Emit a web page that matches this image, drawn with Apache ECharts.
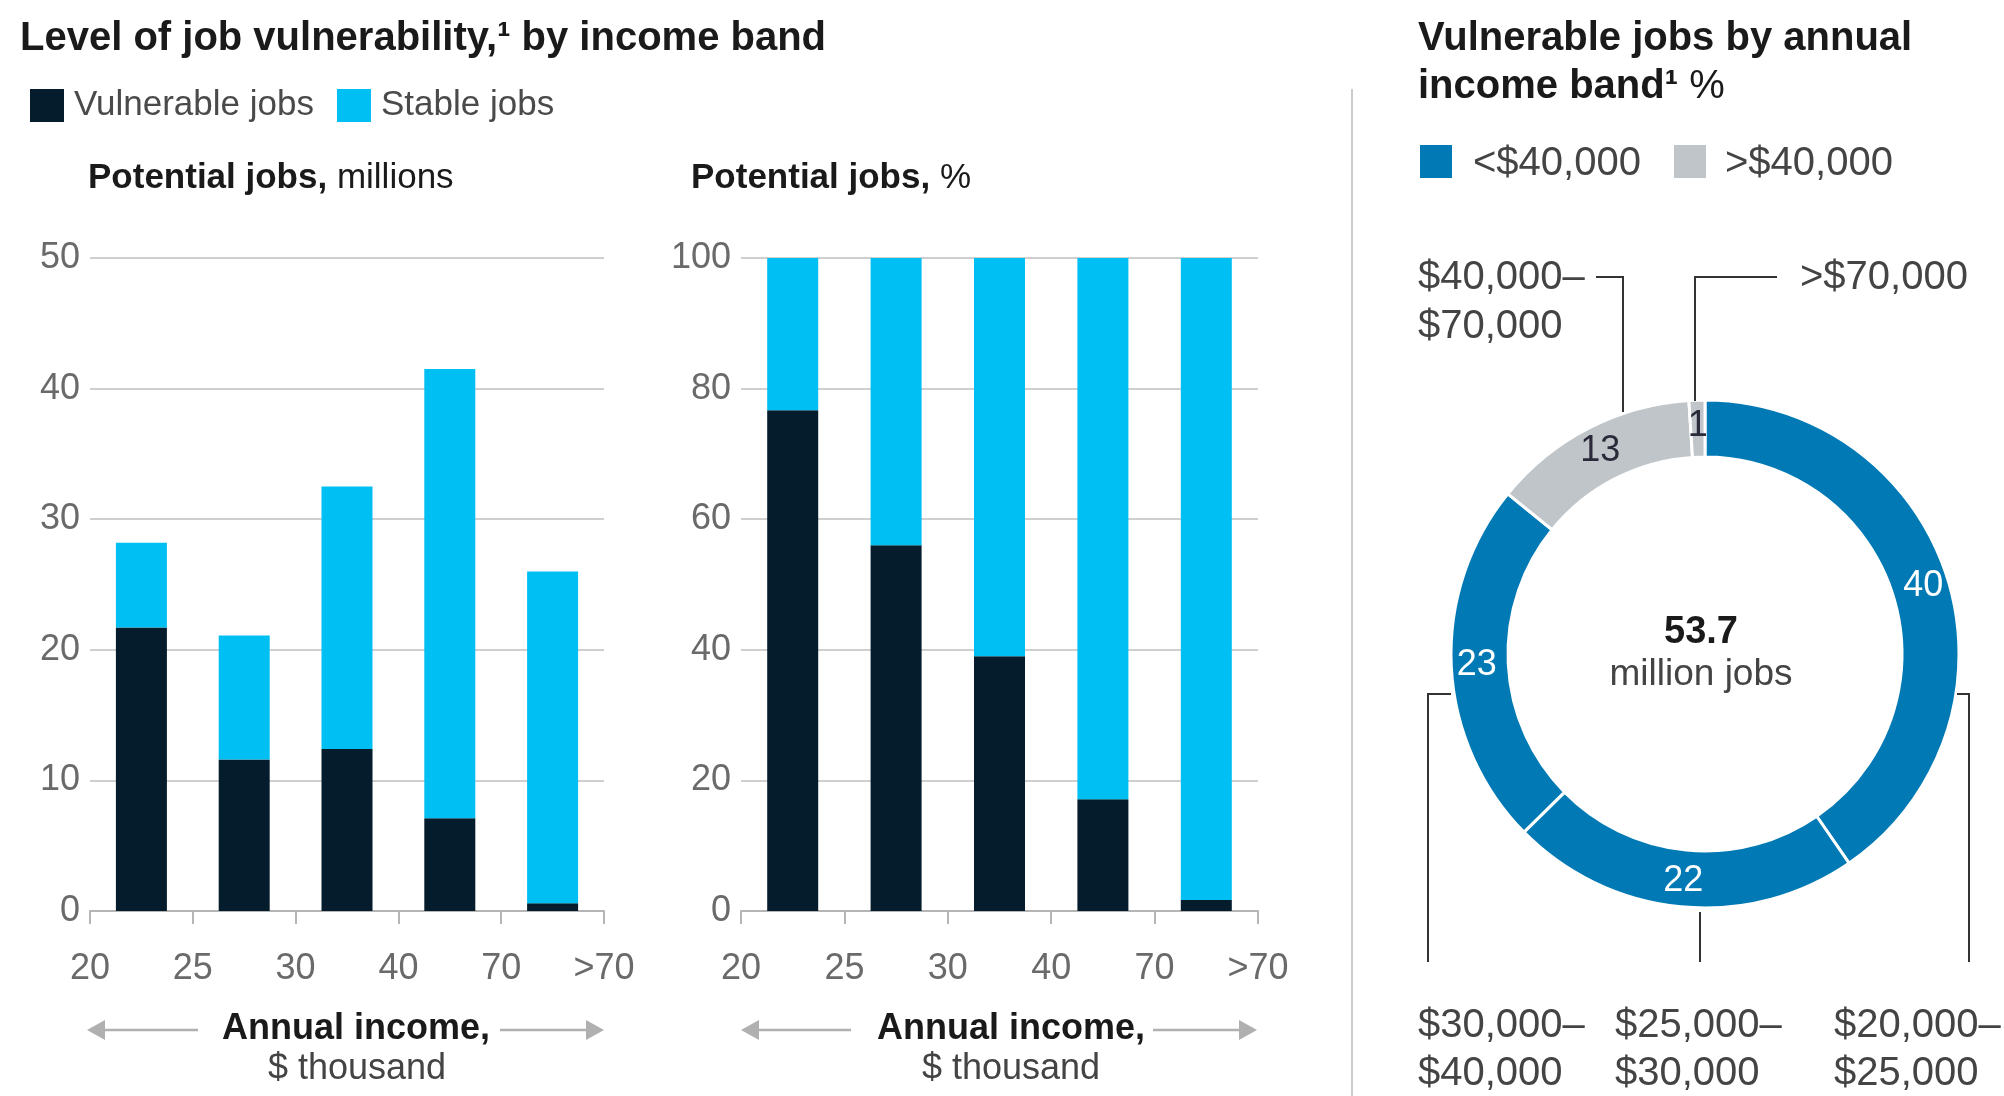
<!DOCTYPE html>
<html>
<head>
<meta charset="utf-8">
<title>Job vulnerability by income band</title>
<script src="https://cdn.jsdelivr.net/npm/echarts@6/dist/echarts.min.js"></script>
<style>
  html, body { margin: 0; padding: 0; background: #fff; }
  #chart { width: 2004px; height: 1096px; }
</style>
</head>
<body>
<div id="chart"></div>
<script>
// income bands (bars sit between the ticks), $ thousand
const incomeBands = ['20-25', '25-30', '30-40', '40-70', '>70'];
const tickLabels = ['20', '25', '30', '40', '70', '>70'];

// potential jobs, millions
const vulnerableJobs = [21.7, 11.6, 12.4, 7.1, 0.6];
const stableJobs = [6.5, 9.5, 20.1, 34.4, 25.4];

// potential jobs, %
const vulnerablePct = [76.7, 56.0, 39.0, 17.1, 1.7];
const stablePct = [23.3, 44.0, 61.0, 82.9, 98.3];

// vulnerable jobs by annual income band, %
const donutBands = ['$20,000–$25,000', '$25,000–$30,000', '$30,000–$40,000', '$40,000–$70,000', '>$70,000'];
const donutShares = [40, 22, 23, 13, 1];
const donutGroup = ['low', 'low', 'low', 'high', 'high'];
const donutTotal = '53.7';

const FONT = '"Liberation Sans", Arial, sans-serif';
const colors = {
  vul: '#051c2c',
  stable: '#00bff3',
  low: '#0079b4',
  high: '#bfc5c8',
  grid: '#cfcfcf',
  axis: '#b5b5b5',
  label: '#6a6a6a',
  text: '#444444',
  title: '#1a1a1a',
  arrow: '#b0b0b0',
  leader: '#333333'
};

let chartDom = document.getElementById('chart');
let myChart = echarts.init(chartDom, null, { renderer: 'canvas' });

function text(x, y, str, size, opts) {
  opts = opts || {};
  return {
    type: 'text', x: x, y: y, silent: true, z: 10,
    style: Object.assign({
      text: str,
      fontFamily: FONT,
      fontSize: size,
      fontWeight: opts.bold ? 'bold' : 'normal',
      fill: opts.color || colors.text,
      align: opts.align || 'left',
      verticalAlign: 'middle'
    }, opts.rich ? { rich: opts.rich } : {})
  };
}

function richStyle(size, color) {
  return {
    b: { fontFamily: FONT, fontSize: size, fontWeight: 'bold', fill: color },
    r: { fontFamily: FONT, fontSize: size, fontWeight: 'normal', fill: color }
  };
}

// double-headed "annual income" arrows under each bar chart
function arrows(left, right, gapL, gapR, y) {
  let head = 18, half = 10;
  let st = { stroke: colors.arrow, lineWidth: 2.5 };
  return [
    { type: 'line', silent: true, shape: { x1: left + head, y1: y, x2: gapL, y2: y }, style: st },
    { type: 'polygon', silent: true, shape: { points: [[left, y], [left + head, y - half], [left + head, y + half]] }, style: { fill: colors.arrow } },
    { type: 'line', silent: true, shape: { x1: gapR, y1: y, x2: right - head, y2: y }, style: st },
    { type: 'polygon', silent: true, shape: { points: [[right, y], [right - head, y - half], [right - head, y + half]] }, style: { fill: colors.arrow } }
  ];
}

function leader(points) {
  return { type: 'polyline', silent: true, z: 10, shape: { points: points }, style: { stroke: colors.leader, lineWidth: 2, fill: null } };
}

function catAxis(gridIndex) {
  return {
    type: 'category', gridIndex: gridIndex, data: incomeBands,
    axisLine: { lineStyle: { color: colors.axis, width: 2 } },
    axisTick: { show: true, length: 13, lineStyle: { color: colors.axis, width: 2 } },
    axisLabel: { show: false },
    splitLine: { show: false }
  };
}

// value axis used only for the boundary tick labels
function tickAxis(gridIndex) {
  return {
    type: 'value', gridIndex: gridIndex, position: 'bottom',
    min: 0, max: 5, interval: 1,
    axisLine: { show: false }, axisTick: { show: false }, splitLine: { show: false },
    axisLabel: {
      show: true, margin: 40, fontSize: 36, fontFamily: FONT, color: colors.label,
      showMinLabel: true, showMaxLabel: true,
      formatter: function (v) { return tickLabels[v]; }
    }
  };
}

function valAxis(gridIndex, max, interval) {
  return {
    type: 'value', gridIndex: gridIndex, min: 0, max: max, interval: interval,
    axisLine: { show: false }, axisTick: { show: false },
    splitLine: { lineStyle: { color: colors.grid, width: 2 } },
    axisLabel: { margin: 10, fontSize: 36, fontFamily: FONT, color: colors.label }
  };
}

let pieData = donutShares.map(function (v, i) {
  let low = donutGroup[i] === 'low';
  return {
    name: donutBands[i],
    value: v,
    itemStyle: { color: low ? colors.low : colors.high },
    label: { color: low ? '#ffffff' : '#2a2a3a' }
  };
});

let option = {
  animation: false,
  backgroundColor: '#ffffff',
  textStyle: { fontFamily: FONT },
  legend: {
    data: ['Vulnerable jobs', 'Stable jobs'],
    left: 25, top: 83,
    icon: 'rect', itemWidth: 34, itemHeight: 33, itemGap: 23,
    selectedMode: false,
    textStyle: { fontSize: 35, fontFamily: FONT, color: '#4a4a4a', padding: [0, 0, 0, 5] }
  },
  grid: [
    { left: 90, top: 258, width: 514, height: 653, outerBoundsMode: 'none' },
    { left: 741, top: 258, width: 517, height: 653, outerBoundsMode: 'none' }
  ],
  xAxis: [catAxis(0), tickAxis(0), catAxis(1), tickAxis(1)],
  yAxis: [valAxis(0, 50, 10), valAxis(1, 100, 20)],
  series: [
    {
      name: 'Vulnerable jobs', type: 'bar', stack: 'abs', xAxisIndex: 0, yAxisIndex: 0,
      barWidth: 51, data: vulnerableJobs, itemStyle: { color: colors.vul }
    },
    {
      name: 'Stable jobs', type: 'bar', stack: 'abs', xAxisIndex: 0, yAxisIndex: 0,
      barWidth: 51, data: stableJobs, itemStyle: { color: colors.stable }
    },
    {
      name: 'Vulnerable jobs', type: 'bar', stack: 'pct', xAxisIndex: 2, yAxisIndex: 1,
      barWidth: 51, data: vulnerablePct, itemStyle: { color: colors.vul }
    },
    {
      name: 'Stable jobs', type: 'bar', stack: 'pct', xAxisIndex: 2, yAxisIndex: 1,
      barWidth: 51, data: stablePct, itemStyle: { color: colors.stable }
    },
    {
      name: 'Vulnerable jobs by annual income band', type: 'pie',
      center: [1705, 654], radius: [197, 254],
      startAngle: 90, clockwise: true,
      avoidLabelOverlap: false,
      itemStyle: { borderColor: '#ffffff', borderWidth: 3 },
      label: { show: true, position: 'inside', formatter: '{c}', fontSize: 36, fontFamily: FONT },
      labelLine: { show: false },
      emphasis: { disabled: true },
      data: pieData
    }
  ],
  graphic: [
    // left panel headings
    text(20, 39, 'Level of job vulnerability,¹ by income band', 40, { bold: true, color: colors.title }),
    text(88, 178, '{b|Potential jobs,}{r| millions}', 35, { rich: richStyle(35, colors.title) }),
    text(691, 178, '{b|Potential jobs,}{r| %}', 35, { rich: richStyle(35, colors.title) }),

    // axis captions
    text(356, 1029, 'Annual income,', 36, { bold: true, align: 'center', color: colors.title }),
    text(357, 1069, '$ thousand', 36, { align: 'center' }),
    text(1011, 1029, 'Annual income,', 36, { bold: true, align: 'center', color: colors.title }),
    text(1011, 1069, '$ thousand', 36, { align: 'center' })
  ]
    .concat(arrows(87, 604, 198, 500, 1030))
    .concat(arrows(741, 1257, 851, 1153, 1030))
    .concat([
      // divider
      { type: 'line', silent: true, shape: { x1: 1352, y1: 89, x2: 1352, y2: 1096 }, style: { stroke: '#cccccc', lineWidth: 2 } },

      // right panel heading and legend
      text(1418, 39, 'Vulnerable jobs by annual', 40, { bold: true, color: colors.title }),
      text(1418, 87, '{b|income band¹}{r| %}', 40, { rich: richStyle(40, colors.title) }),
      { type: 'rect', silent: true, shape: { x: 1420, y: 145, width: 32, height: 33 }, style: { fill: colors.low } },
      text(1473, 164, '<$40,000', 40),
      { type: 'rect', silent: true, shape: { x: 1674, y: 145, width: 32, height: 33 }, style: { fill: colors.high } },
      text(1725, 164, '>$40,000', 40),

      // donut centre
      text(1701, 633, donutTotal, 38, { bold: true, align: 'center', color: colors.title }),
      text(1701, 675, 'million jobs', 37, { align: 'center' }),

      // band callouts
      text(1418, 278, '$40,000–', 40),
      text(1418, 327, '$70,000', 40),
      leader([[1596, 277], [1623, 277], [1623, 412]]),
      text(1800, 278, '>$70,000', 40),
      leader([[1777, 277], [1695, 277], [1695, 401]]),

      leader([[1451, 694], [1428, 694], [1428, 962]]),
      text(1418, 1026, '$30,000–', 40),
      text(1418, 1074, '$40,000', 40),
      leader([[1700, 912], [1700, 962]]),
      text(1615, 1026, '$25,000–', 40),
      text(1615, 1074, '$30,000', 40),
      leader([[1957, 694], [1969, 694], [1969, 962]]),
      text(1834, 1026, '$20,000–', 40),
      text(1834, 1074, '$25,000', 40)
    ])
};

myChart.setOption(option);
window.addEventListener('resize', function () {
  myChart.resize();
});
</script>
</body>
</html>
